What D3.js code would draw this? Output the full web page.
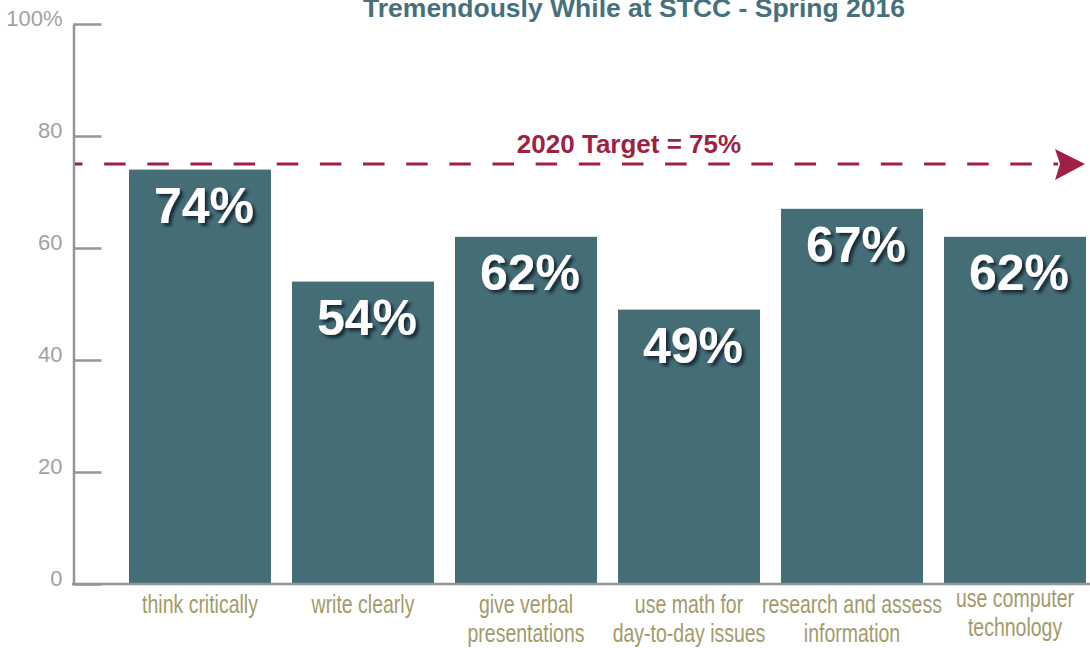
<!DOCTYPE html>
<html>
<head>
<meta charset="utf-8">
<script src="https://cdn.jsdelivr.net/npm/d3@7"></script>
<style>
  body { margin: 0; background: #fff; }
  svg { display: block; }
</style>
</head>
<body>
<div id="chart"></div>
<script>
// chart data
var categories = [
  ["think critically"],
  ["write clearly"],
  ["give verbal", "presentations"],
  ["use math for", "day-to-day issues"],
  ["research and assess", "information"],
  ["use computer", "technology"]
];
var values = [74, 54, 62, 49, 67, 62];
var yTicks = [0, 20, 40, 60, 80, 100];
var target = 75;
var titleText = "Tremendously While at STCC - Spring 2016";
var targetText = "2020 Target = 75%";

var width = 1090, height = 648;

var svg = d3.select("#chart")
  .append("svg")
  .attr("width", width)
  .attr("height", height);

// drop shadow for the value labels
var defs = svg.append("defs");
var f = defs.append("filter").attr("id", "shadow")
  .attr("x", "-20%").attr("y", "-20%").attr("width", "150%").attr("height", "160%");
f.append("feDropShadow")
  .attr("dx", 3).attr("dy", 3).attr("stdDeviation", 1.6)
  .attr("flood-color", "#10242a").attr("flood-opacity", 0.85);

var x = d3.scaleBand()
  .domain(d3.range(values.length))
  .range([129, 1086])
  .paddingInner(0.129)
  .paddingOuter(0);

var y = d3.scaleLinear()
  .domain([0, 100])
  .range([584, 24]);

// title (top cut off like the original)
svg.append("text")
  .attr("x", 634)
  .attr("y", 17)
  .attr("text-anchor", "middle")
  .style("font-family", "'Liberation Sans', Arial, sans-serif")
  .style("font-weight", "bold")
  .style("font-size", "26.5px")
  .style("fill", "#46717c")
  .text(titleText);

// bars
svg.selectAll(".bar")
  .data(values)
  .enter().append("rect")
  .attr("class", "bar")
  .attr("x", function(d, i) { return x(i); })
  .attr("y", function(d) { return y(d); })
  .attr("width", x.bandwidth())
  .attr("height", function(d) { return y(0) - y(d); })
  .attr("fill", "#456d76");

// y axis, ticks point inward
var yAxis = svg.append("g")
  .attr("transform", "translate(73.5,0)")
  .call(d3.axisLeft(y)
    .tickValues(yTicks)
    .tickSizeInner(-28)
    .tickSizeOuter(0)
    .tickPadding(11)
    .tickFormat(function(d) { return d === 100 ? "100%" : d; }));

yAxis.selectAll("path, line")
  .attr("stroke", "#939598")
  .attr("stroke-width", 2.5);
yAxis.selectAll("text")
  .attr("dy", "0.05em")
  .style("font-family", "'Liberation Sans', Arial, sans-serif")
  .style("font-size", "22px")
  .style("fill", "#a0a2a5");

// baseline
svg.append("line")
  .attr("x1", 72).attr("x2", 1090)
  .attr("y1", y(0)).attr("y2", y(0))
  .attr("stroke", "#939598")
  .attr("stroke-width", 2.5);

// value labels
svg.selectAll(".val")
  .data(values)
  .enter().append("text")
  .attr("class", "val")
  .attr("x", function(d, i) { return x(i) + x.bandwidth() / 2 + 4; })
  .attr("y", function(d) { return y(d) + 53; })
  .attr("text-anchor", "middle")
  .attr("filter", "url(#shadow)")
  .style("font-family", "'Liberation Sans', Arial, sans-serif")
  .style("font-weight", "bold")
  .style("font-size", "50px")
  .style("fill", "#ffffff")
  .text(function(d) { return d + "%"; });

// category labels, squeezed to look condensed
var cat = svg.selectAll(".cat")
  .data(categories)
  .enter().append("text")
  .attr("class", "cat")
  .attr("text-anchor", "middle")
  .attr("transform", function(d, i) {
    var dy = i === categories.length - 1 ? 607 : 613;
    return "translate(" + (x(i) + x.bandwidth() / 2) + "," + dy + ") scale(0.78,1)";
  })
  .style("font-family", "'Liberation Sans', Arial, sans-serif")
  .style("font-size", "25px")
  .style("fill", "#a39a6b");

cat.selectAll("tspan")
  .data(function(d) { return d; })
  .enter().append("tspan")
  .attr("x", 0)
  .attr("y", function(d, j) { return j * 29; })
  .text(function(d) { return d; });

// target line
var ty = y(target);
svg.append("line")
  .attr("x1", 75).attr("x2", 1058)
  .attr("y1", ty).attr("y2", ty)
  .attr("stroke", "#a01f45")
  .attr("stroke-width", 3.2)
  .attr("stroke-dasharray", "21.5 21.65")
  .attr("stroke-dashoffset", 14);

svg.append("path")
  .attr("d", "M1055," + (ty - 15) + "L1085," + ty + "L1055," + (ty + 16) + "L1060," + ty + "Z")
  .attr("fill", "#a01f45");

svg.append("text")
  .attr("x", 629)
  .attr("y", 153)
  .attr("text-anchor", "middle")
  .style("font-family", "'Liberation Sans', Arial, sans-serif")
  .style("font-weight", "bold")
  .style("font-size", "26px")
  .style("fill", "#a01f45")
  .text(targetText);
</script>
</body>
</html>
